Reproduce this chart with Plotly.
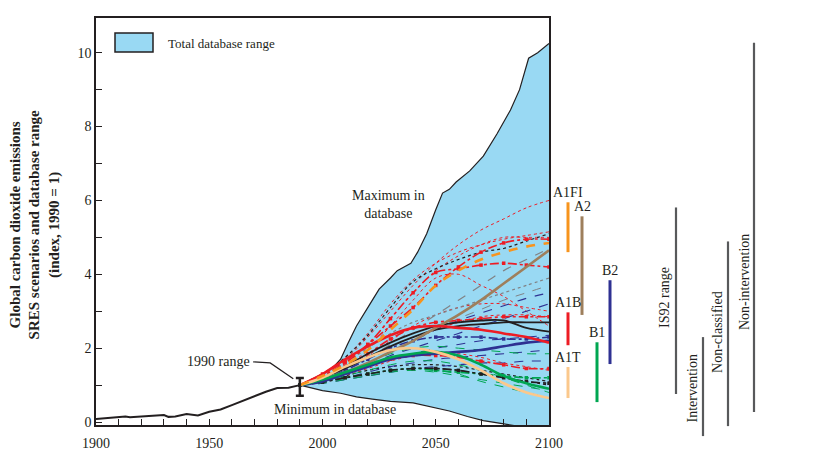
import plotly.graph_objects as go

# ---------------- data ----------------
HIST_YEARS = [1900, 1905, 1910, 1913, 1915, 1920, 1925, 1930, 1932, 1935, 1940, 1945,
              1950, 1955, 1960, 1965, 1970, 1975, 1980, 1985, 1990]
HIST_VALS = [0.08, 0.10, 0.13, 0.15, 0.13, 0.15, 0.16, 0.19, 0.14, 0.15, 0.22, 0.18,
             0.28, 0.34, 0.46, 0.58, 0.72, 0.82, 0.92, 0.93, 1.00]

MAX_YEARS = [1990, 1995, 2000, 2005, 2008, 2011, 2015, 2021, 2025, 2030, 2033, 2036, 2039,
             2042, 2046, 2050, 2053, 2056, 2059, 2065, 2071, 2077, 2083, 2087, 2091, 2095, 2100]
MAX_VALS = [1.0, 1.15, 1.3, 1.5, 1.7, 2.1, 2.6, 3.2, 3.6, 3.9, 4.1, 4.2, 4.3,
            4.6, 5.1, 5.75, 6.2, 6.3, 6.5, 6.8, 7.2, 7.8, 8.45, 9.0, 9.85, 10.0, 10.25]

MIN_YEARS = [1990, 2000, 2008, 2015, 2022, 2030, 2040, 2049, 2056, 2064, 2071, 2078, 2085, 2093, 2100]
MIN_VALS = [1.0, 0.85, 0.78, 0.68, 0.62, 0.56, 0.52, 0.40, 0.30, 0.15, 0.04, -0.03, -0.10, -0.14, -0.18]

YEARS = [1990, 2000, 2010, 2020, 2030, 2040, 2050, 2060, 2070, 2080, 2090, 2100]

# illustrative marker scenarios
A1FI_MARKER = [1.0, 1.25, 1.55, 1.95, 2.5, 3.05, 3.7, 4.1, 4.4, 4.6, 4.75, 4.85]
A2_MARKER = [1.0, 1.15, 1.35, 1.6, 1.9, 2.2, 2.55, 2.9, 3.3, 3.75, 4.2, 4.65]
A1B_MARKER = [1.0, 1.3, 1.7, 2.05, 2.35, 2.55, 2.6, 2.55, 2.5, 2.4, 2.3, 2.15]
A1T_MARKER = [1.0, 1.2, 1.5, 1.75, 1.95, 2.0, 1.9, 1.7, 1.4, 1.05, 0.8, 0.65]
B2_MARKER = [1.0, 1.1, 1.3, 1.5, 1.7, 1.8, 1.85, 1.9, 1.95, 2.05, 2.15, 2.2]
B1_MARKER = [1.0, 1.15, 1.35, 1.55, 1.75, 1.85, 1.9, 1.8, 1.55, 1.25, 1.05, 0.9]

# other scenarios
RED_DOT_1 = [1.0, 1.3, 1.7, 2.3, 3.0, 3.7, 4.3, 4.8, 5.2, 5.5, 5.8, 6.0]
RED_DOT_2 = [1.0, 1.3, 1.75, 2.4, 3.2, 3.85, 4.3, 4.6, 4.8, 4.95, 5.05, 5.15]
RED_DOT_3 = [1.0, 1.25, 1.6, 2.1, 2.8, 3.5, 4.1, 4.5, 4.8, 5.0, 5.0, 5.0]
RED_DOT_4 = [1.0, 1.2, 1.5, 1.95, 2.6, 3.3, 3.9, 4.0, 3.7, 3.4, 3.0, 2.6]
RED_DOT_5 = [1.0, 1.2, 1.45, 1.8, 2.2, 2.6, 2.9, 3.1, 3.2, 3.2, 3.1, 3.0]
RED_DOT_6 = [1.0, 1.15, 1.35, 1.6, 1.9, 2.2, 2.5, 2.7, 2.85, 2.9, 2.9, 2.85]
RED_DOT_7 = [1.0, 1.1, 1.25, 1.45, 1.65, 1.8, 1.9, 1.85, 1.75, 1.6, 1.5, 1.4]
RED_DASHDOT_1 = [1.0, 1.25, 1.6, 2.1, 2.8, 3.5, 4.05, 4.15, 4.25, 4.3, 4.25, 4.2]
RED_DASHDOT_2 = [1.0, 1.3, 1.65, 2.1, 2.6, 3.1, 3.7, 4.2, 4.6, 4.85, 4.95, 4.95]
RED_DASHDOT_3 = [1.0, 1.2, 1.5, 1.85, 2.25, 2.55, 2.7, 2.75, 2.8, 2.85, 2.85, 2.85]
RED_DASHDOT_4 = [1.0, 1.15, 1.35, 1.55, 1.7, 1.8, 1.8, 1.75, 1.65, 1.55, 1.45, 1.45]
BLACK_DOT_1 = [1.0, 1.3, 1.75, 2.35, 3.1, 3.8, 4.15, 4.4, 4.6, 4.7, 4.9, 5.1]
BLACK_DOT_2 = [1.0, 1.25, 1.6, 2.0, 2.4, 2.7, 2.9, 3.1, 3.3, 3.5, 3.7, 3.9]
BLACK_DOT_3 = [1.0, 1.1, 1.25, 1.4, 1.5, 1.55, 1.55, 1.5, 1.4, 1.3, 1.2, 1.1]
BLACK_DOT_4 = [1.0, 1.1, 1.2, 1.3, 1.4, 1.45, 1.45, 1.4, 1.3, 1.2, 1.1, 1.0]
BLACK_SOLID_1 = [1.0, 1.2, 1.5, 1.85, 2.15, 2.4, 2.6, 2.7, 2.75, 2.75, 2.55, 2.45]
BLACK_SOLID_2 = [1.0, 1.2, 1.45, 1.75, 2.05, 2.3, 2.5, 2.6, 2.65, 2.7, 2.7, 2.7]
BLACK_DASH_1 = [1.0, 1.08, 1.2, 1.3, 1.4, 1.45, 1.45, 1.4, 1.3, 1.2, 1.1, 1.05]
GRAY_DASH_1 = [1.0, 1.2, 1.45, 1.75, 2.1, 2.5, 2.9, 3.3, 3.7, 4.1, 4.4, 4.7]
GRAY_DASH_2 = [1.0, 1.15, 1.35, 1.6, 1.9, 2.2, 2.5, 2.8, 3.05, 3.3, 3.5, 3.7]
BLUE_DASH_1 = [1.0, 1.15, 1.35, 1.6, 1.9, 2.2, 2.5, 2.75, 2.95, 3.15, 3.35, 3.5]
BLUE_DASH_2 = [1.0, 1.15, 1.35, 1.55, 1.8, 2.0, 2.2, 2.4, 2.6, 2.8, 3.0, 3.2]
BLUE_DASH_3 = [1.0, 1.1, 1.3, 1.5, 1.7, 1.85, 2.0, 2.1, 2.2, 2.25, 2.3, 2.35]
BLUE_DASH_4 = [1.0, 1.1, 1.2, 1.35, 1.5, 1.6, 1.7, 1.75, 1.8, 1.85, 1.9, 1.95]
BLUE_DASH_5 = [1.0, 1.05, 1.15, 1.25, 1.35, 1.45, 1.5, 1.55, 1.6, 1.6, 1.65, 1.65]
BLUE_DASHDOT_1 = [1.0, 1.15, 1.4, 1.7, 2.0, 2.2, 2.3, 2.3, 2.3, 2.25, 2.25, 2.3]
GREEN_DASH_1 = [1.0, 1.1, 1.25, 1.4, 1.55, 1.65, 1.65, 1.55, 1.4, 1.2, 1.0, 0.8]
GREEN_DASH_2 = [1.0, 1.08, 1.2, 1.3, 1.4, 1.45, 1.4, 1.3, 1.1, 0.95, 0.8, 0.65]
GREEN_DASH_3 = [1.0, 1.15, 1.35, 1.6, 1.85, 2.0, 2.05, 2.0, 1.95, 1.9, 1.85, 1.85]
GREEN_DASH_4 = [1.0, 1.05, 1.15, 1.25, 1.35, 1.4, 1.35, 1.25, 1.15, 1.05, 0.95, 0.85]
GREEN_DASHDOT_1 = [1.0, 1.1, 1.2, 1.3, 1.4, 1.45, 1.4, 1.35, 1.3, 1.25, 1.2, 1.2]

RANGE_1990 = [0.71, 1.19]  # low, high

# ranges of scenario families in 2100
FAMILY_NAMES = ["A1FI", "A2", "A1B", "A1T", "B1", "B2"]
FAMILY_LOW = [4.6, 2.9, 2.08, 0.65, 0.54, 1.57]
FAMILY_HIGH = [5.95, 5.57, 2.97, 1.49, 2.16, 3.84]
OTHER_NAMES = ["IS92 range", "Intervention", "Non-classified", "Non-intervention"]
OTHER_LOW = [0.76, -0.38, -0.11, 0.27]
OTHER_HIGH = [5.81, 2.3, 4.89, 10.27]

# ---------------- styles / geometry ----------------
FONT = "Liberation Serif"
INK = "#231f20"
FILL = "#99d9f3"
RED, BLACK, GRAY, BLUE, GREEN = "#ed1c24", "#231f20", "#808285", "#2e3192", "#00a651"
FAMILY_COLORS = ["#f7941d", "#9e7f5c", "#ed1c24", "#fbc88c", "#00a651", "#2e3192"]
# horizontal offsets (px) right of the main plot frame
FAMILY_POS = [19, 33, 19, 19, 48, 61]
OTHER_POS = [127, 154, 179, 205]
OTHER_LABEL_POS = [116, 143, 169, 195]
OTHER_LABEL_Y = [3.36, 0.91, 2.44, 3.79]

OFF = 8  # page body margin
W, H = 839 - 2 * OFF, 473 - 2 * OFF
ML, MT = 96 - OFF, 18 - OFF
MR = 0
PLOT_BOTTOM = 453 - OFF
MB = H - PLOT_BOTTOM
PW, PH = W - ML - MR, H - MT - MB
AX_RIGHT = 549 - OFF
AX_BOTTOM = 425 - OFF
Y_TOP, Y_BOT = 10.94, -0.08
PX_PER_UNIT = (AX_BOTTOM - MT) / (Y_TOP - Y_BOT)
Y2_BOT = Y_BOT - (PLOT_BOTTOM - AX_BOTTOM) / PX_PER_UNIT
XDOM = (AX_RIGHT - ML) / PW
YDOM0 = (PLOT_BOTTOM - AX_BOTTOM) / PH
X2_SPAN = W - MR - AX_RIGHT


def px_x(p):
    return (p - OFF - ML) / PW


def px_y(p):
    return (PLOT_BOTTOM - (p - OFF)) / PH


fig = go.Figure()

# database range (min then max filled)
fig.add_trace(go.Scatter(x=MIN_YEARS, y=MIN_VALS, mode="lines",
                         line=dict(color=INK, width=1.2), showlegend=False))
fig.add_trace(go.Scatter(x=MAX_YEARS, y=MAX_VALS, mode="lines", fill="tonexty",
                         fillcolor=FILL, line=dict(color=INK, width=1.2), showlegend=False))

thin = [
    (RED_DOT_1, RED, "dot", 1.0), (RED_DOT_2, RED, "dot", 1.0), (RED_DOT_3, RED, "dot", 1.0),
    (RED_DOT_4, RED, "dot", 1.0), (RED_DOT_5, RED, "dot", 1.0), (RED_DOT_6, RED, "dot", 1.0),
    (RED_DOT_7, RED, "dot", 1.0),
    (BLACK_DOT_1, BLACK, "dot", 1.2), (BLACK_DOT_2, GRAY, "dot", 1.2),
    (BLACK_DOT_3, BLACK, "dot", 1.2), (BLACK_DOT_4, BLACK, "dot", 1.2),
    (GRAY_DASH_1, GRAY, "dash", 1.2), (GRAY_DASH_2, GRAY, "dash", 1.0),
    (BLUE_DASH_1, BLUE, "dash", 1.1), (BLUE_DASH_2, BLUE, "dash", 1.1),
    (BLUE_DASH_3, BLUE, "dash", 1.1), (BLUE_DASH_4, BLUE, "dash", 1.1),
    (BLUE_DASH_5, BLUE, "dash", 1.1),
    (GREEN_DASH_1, GREEN, "dash", 1.0), (GREEN_DASH_2, GREEN, "dash", 1.0),
    (GREEN_DASH_3, GREEN, "dash", 1.0), (GREEN_DASH_4, GREEN, "dash", 1.0),
]
for vals, col, dash, w in thin:
    fig.add_trace(go.Scatter(x=YEARS, y=vals, mode="lines", line_shape="spline",
                             line=dict(color=col, dash=dash, width=w), showlegend=False))

medium = [
    (RED_DASHDOT_1, RED), (RED_DASHDOT_2, RED), (RED_DASHDOT_3, RED), (RED_DASHDOT_4, RED),
    (BLUE_DASHDOT_1, BLUE), (GREEN_DASHDOT_1, GREEN), (BLACK_DASH_1, BLACK),
]
for vals, col in medium:
    fig.add_trace(go.Scatter(x=YEARS, y=vals, mode="lines+markers", line_shape="spline",
                             line=dict(color=col, dash="dashdot", width=1.6),
                             marker=dict(symbol="square", size=3.5, color=col),
                             showlegend=False))

for vals in (BLACK_SOLID_1, BLACK_SOLID_2):
    fig.add_trace(go.Scatter(x=YEARS, y=vals, mode="lines", line_shape="spline",
                             line=dict(color=BLACK, width=1.8), showlegend=False))

markers = [
    (A2_MARKER, "#9e7f5c", "solid"), (B2_MARKER, BLUE, "solid"), (B1_MARKER, GREEN, "solid"),
    (A1B_MARKER, RED, "solid"), (A1T_MARKER, "#fbc88c", "solid"), (A1FI_MARKER, "#f7941d", "dash"),
]
for vals, col, dash in markers:
    fig.add_trace(go.Scatter(x=YEARS, y=vals, mode="lines", line_shape="spline",
                             line=dict(color=col, width=2.6, dash=dash), showlegend=False))

# historical emissions
fig.add_trace(go.Scatter(x=HIST_YEARS, y=HIST_VALS, mode="lines",
                         line=dict(color=INK, width=2), showlegend=False))

# 1990 range
fig.add_trace(go.Scatter(x=[HIST_YEARS[-1]], y=[HIST_VALS[-1]], mode="markers",
                         marker=dict(size=1, color=INK),
                         error_y=dict(type="data", symmetric=False,
                                      array=[RANGE_1990[1] - HIST_VALS[-1]],
                                      arrayminus=[HIST_VALS[-1] - RANGE_1990[0]],
                                      color=INK, thickness=2.5, width=4),
                         showlegend=False))

# family / other ranges on the right
annotations = []
for name, lo, hi, col, pos in zip(FAMILY_NAMES, FAMILY_LOW, FAMILY_HIGH, FAMILY_COLORS, FAMILY_POS):
    fig.add_trace(go.Scatter(x=[pos, pos], y=[lo, hi], mode="lines", xaxis="x2", yaxis="y2",
                             line=dict(color=col, width=3), showlegend=False))
    annotations.append(dict(x=pos, y=hi, xref="x2", yref="y2", text=name, showarrow=False,
                            xanchor="center", yanchor="bottom", yshift=0,
                            font=dict(family=FONT, size=14, color=INK)))
for name, lo, hi, pos, lpos, ly in zip(OTHER_NAMES, OTHER_LOW, OTHER_HIGH, OTHER_POS,
                                       OTHER_LABEL_POS, OTHER_LABEL_Y):
    fig.add_trace(go.Scatter(x=[pos, pos], y=[lo, hi], mode="lines", xaxis="x2", yaxis="y2",
                             line=dict(color="#58595b", width=2.2), showlegend=False))
    annotations.append(dict(x=lpos, y=ly, xref="x2", yref="y2", text=name, showarrow=False,
                            textangle=-90, xanchor="center", yanchor="middle",
                            font=dict(family=FONT, size=14, color=INK)))

# text annotations
annotations += [
    dict(x=2029, y=5.9, xref="x", yref="y", text="Maximum in<br>database", showarrow=False,
         font=dict(family=FONT, size=14, color=INK), xanchor="center", yanchor="middle"),
    dict(x=2005.4, y=0.33, xref="x", yref="y", text="Minimum in database", showarrow=False,
         font=dict(family=FONT, size=14, color=INK), xanchor="center", yanchor="middle"),
    dict(x=1969.0, y=1.65, xref="x", yref="y", text="1990 range", showarrow=False,
         font=dict(family=FONT, size=14, color=INK), xanchor="right", yanchor="middle"),
    dict(x=px_x(166), y=px_y(44), xref="paper", yref="paper", text="Total database range",
         showarrow=False, font=dict(family=FONT, size=13, color=INK),
         xanchor="left", yanchor="middle"),
    dict(x=px_x(35), y=5.35, xref="paper", yref="y",
         text="<b>Global carbon dioxide emissions<br>SRES scenarios and database range<br>(index, 1990 = 1)</b>",
         showarrow=False, textangle=-90, xanchor="center", yanchor="middle",
         font=dict(family=FONT, size=15, color=INK)),
]

shapes = [
    dict(type="rect", xref="paper", yref="paper", x0=px_x(115), x1=px_x(153),
         y0=px_y(52), y1=px_y(33), fillcolor=FILL, line=dict(color=INK, width=1.5)),
    dict(type="path", xref="x", yref="y",
         path="M 1969.4,1.63 L 1976.9,1.60 L 1987.1,1.17",
         line=dict(color=INK, width=1.2)),
]

axis_font = dict(family=FONT, size=14, color=INK)
fig.update_layout(
    width=W, height=H,
    margin=dict(l=ML, r=MR, t=MT, b=MB, autoexpand=False),
    paper_bgcolor="white", plot_bgcolor="white",
    showlegend=False,
    xaxis=dict(domain=[0, XDOM], range=[1900, 2100], showline=True, linecolor=INK, linewidth=1.5,
               mirror=True, ticks="inside", ticklen=6, tickwidth=1.2, tickcolor=INK,
               tickvals=[1900, 1950, 2000, 2050, 2100],
               minor=dict(dtick=10, tick0=1900, ticks="inside", ticklen=6, tickwidth=1.2,
                          tickcolor=INK),
               tickfont=axis_font, showgrid=False, zeroline=False, anchor="y",
               ticklabelstandoff=4, automargin=False),
    yaxis=dict(domain=[YDOM0, 1], range=[Y_BOT, Y_TOP], showline=True, linecolor=INK,
               linewidth=1.5, mirror=True, ticks="inside", ticklen=6, tickwidth=1.2,
               tickcolor=INK, tick0=0, dtick=2,
               minor=dict(dtick=1, tick0=0, ticks="inside", ticklen=6, tickwidth=1.2,
                          tickcolor=INK),
               tickfont=axis_font, showgrid=False, zeroline=False, anchor="x",
               automargin=False),
    xaxis2=dict(domain=[XDOM, 1], range=[0, X2_SPAN], visible=False, anchor="y2"),
    yaxis2=dict(domain=[0, 1], range=[Y2_BOT, Y_TOP], visible=False, anchor="x2"),
    annotations=annotations,
    shapes=shapes,
)

fig.write_html("out.html")
